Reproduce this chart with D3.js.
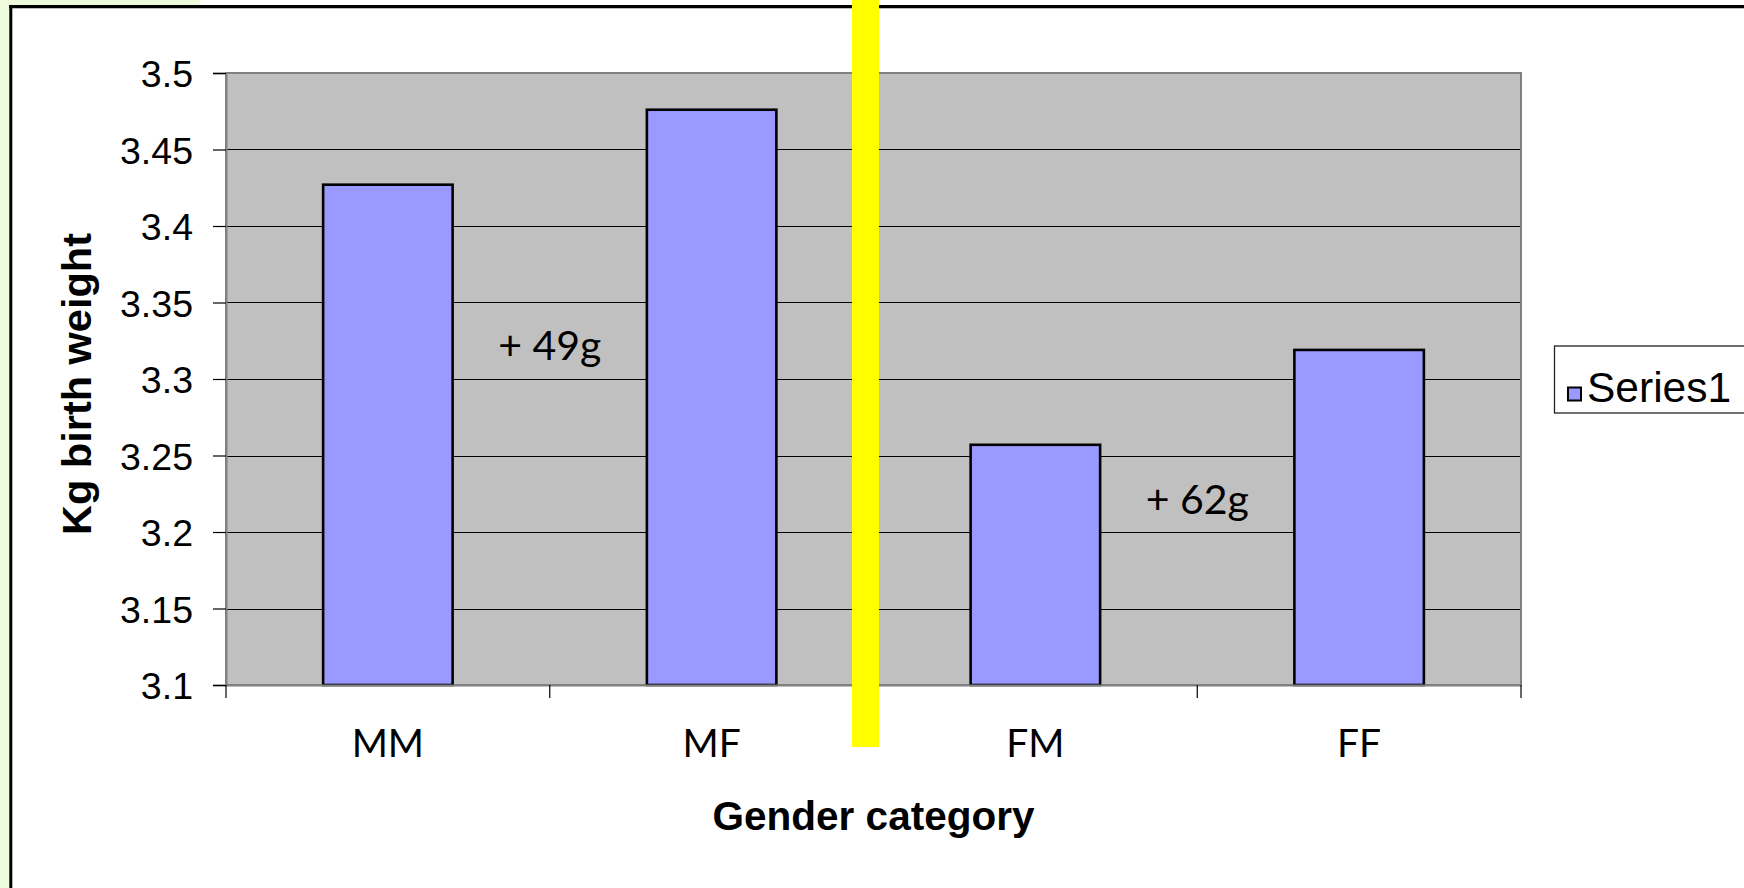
<!DOCTYPE html>
<html>
<head>
<meta charset="utf-8">
<script src="https://cdn.jsdelivr.net/npm/d3@7/dist/d3.min.js"></script>
<style>
  html, body { margin: 0; padding: 0; background: #ffffff; }
  svg { display: block; }
</style>
</head>
<body>
<svg id="chart" width="1744" height="888"></svg>
<script>
// ---- data ----
const categories = ["MM", "MF", "FM", "FF"];
const values = [3.427, 3.476, 3.257, 3.319];
const seriesName = "Series1";
const yTicks = [3.1, 3.15, 3.2, 3.25, 3.3, 3.35, 3.4, 3.45, 3.5];
const yTickLabels = ["3.1", "3.15", "3.2", "3.25", "3.3", "3.35", "3.4", "3.45", "3.5"];
const annotationTexts = ["+ 49g", "+ 62g"];
const annotationBetween = [["MM", "MF"], ["FM", "FF"]];
const annotationLevels = [3.3125, 3.212];
const xTitle = "Gender category";
const yTitle = "Kg birth weight";

// ---- layout ----
const W = 1744, H = 888;
const plot = { left: 226, right: 1521, top: 73, bottom: 685 };
const svg = d3.select("#chart");

// background + frame
svg.append("rect").attr("x", 0).attr("y", 0).attr("width", W).attr("height", H).attr("fill", "#ffffff");
svg.append("rect").attr("x", 0).attr("y", 0).attr("width", 10).attr("height", H).attr("fill", "#eefadc");
svg.append("rect").attr("x", 0).attr("y", 0).attr("width", 200).attr("height", 6).attr("fill", "#eefadc");
svg.append("line").attr("x1", 10.8).attr("x2", 10.8).attr("y1", 5).attr("y2", H).attr("stroke", "#000").attr("stroke-width", 3);
svg.append("line").attr("x1", 9.3).attr("x2", W).attr("y1", 6.6).attr("y2", 6.6).attr("stroke", "#000").attr("stroke-width", 3.2);

const x = d3.scaleBand().domain(categories).range([plot.left, plot.right]).paddingInner(0).paddingOuter(0);
const y = d3.scaleLinear().domain([3.1, 3.5]).range([plot.bottom, plot.top]);

// plot area
svg.append("rect")
  .attr("x", plot.left).attr("y", plot.top)
  .attr("width", plot.right - plot.left).attr("height", plot.bottom - plot.top)
  .attr("fill", "#c0c0c0");

// gridlines
svg.append("g").selectAll("line").data(yTicks.slice(1, -1)).join("line")
  .attr("x1", plot.left).attr("x2", plot.right)
  .attr("y1", d => Math.round(y(d)) + 0.5).attr("y2", d => Math.round(y(d)) + 0.5)
  .attr("stroke", "#000").attr("stroke-width", 1);

// plot border
svg.append("rect")
  .attr("x", plot.left).attr("y", plot.top)
  .attr("width", plot.right - plot.left).attr("height", plot.bottom - plot.top)
  .attr("fill", "none").attr("stroke", "#808080").attr("stroke-width", 2);

// bars
const barW = x.bandwidth() * 0.4;
svg.append("g").selectAll("rect").data(categories).join("rect")
  .attr("x", d => x(d) + (x.bandwidth() - barW) / 2)
  .attr("y", (d, i) => y(values[i]))
  .attr("width", barW)
  .attr("height", (d, i) => y(3.1) - y(values[i]))
  .attr("fill", "#9999ff")
  .attr("stroke", "#000").attr("stroke-width", 2.6);

// y axis
const yAxis = d3.axisLeft(y).tickValues(yTicks).tickSize(13).tickPadding(20)
  .tickFormat((d, i) => yTickLabels[i]);
const gy = svg.append("g").attr("transform", `translate(${plot.left},0)`).call(yAxis);
gy.select(".domain").attr("stroke", "#808080").attr("stroke-width", 2);
gy.selectAll(".tick line").attr("stroke", "#000").attr("stroke-width", 1.2);
gy.selectAll(".tick text")
  .attr("font-family", "'Liberation Sans', Arial, sans-serif")
  .attr("font-size", 37.5).attr("fill", "#000").attr("dy", "0.36em");

// x axis
const xAxis = d3.axisBottom(x).tickSize(0).tickPadding(0).tickFormat(() => "");
const gx = svg.append("g").attr("transform", `translate(0,${plot.bottom})`).call(xAxis);
gx.select(".domain").attr("stroke", "#808080").attr("stroke-width", 2);
gx.selectAll(".tick").remove();
const boundaries = categories.map(c => x(c)).concat([x(categories[categories.length - 1]) + x.bandwidth()]);
svg.append("g").selectAll("line").data(boundaries).join("line")
  .attr("x1", d => d).attr("x2", d => d)
  .attr("y1", plot.bottom).attr("y2", plot.bottom + 13)
  .attr("stroke", "#000").attr("stroke-width", 1.2);
svg.append("g").selectAll("text").data(categories).join("text")
  .attr("x", d => x(d) + x.bandwidth() / 2)
  .attr("y", 757)
  .attr("text-anchor", "middle")
  .attr("font-family", "Lato, 'Open Sans', sans-serif")
  .attr("font-size", 39).attr("fill", "#000")
  .text(d => d);

// annotations
svg.append("g").selectAll("text").data(annotationTexts).join("text")
  .attr("x", (d, i) => x(annotationBetween[i][1]))
  .attr("y", (d, i) => y(annotationLevels[i]))
  .attr("text-anchor", "middle")
  .attr("font-family", "Lato, 'Open Sans', sans-serif")
  .attr("font-size", 41).attr("fill", "#000")
  .text(d => d);

// axis titles
svg.append("text")
  .attr("x", (plot.left + plot.right) / 2).attr("y", 830)
  .attr("text-anchor", "middle")
  .attr("font-family", "'Liberation Sans', Arial, sans-serif")
  .attr("font-weight", "bold").attr("font-size", 40.5).attr("fill", "#000")
  .text(xTitle);
svg.append("text")
  .attr("transform", `translate(91,${(plot.top + plot.bottom) / 2 + 5}) rotate(-90)`)
  .attr("text-anchor", "middle")
  .attr("font-family", "'Liberation Sans', Arial, sans-serif")
  .attr("font-weight", "bold").attr("font-size", 41.5).attr("fill", "#000")
  .text(yTitle);

// legend
const lg = svg.append("g");
lg.append("rect").attr("x", 1554.5).attr("y", 346).attr("width", 220).attr("height", 67)
  .attr("fill", "#ffffff").attr("stroke", "#222").attr("stroke-width", 1.3);
lg.append("rect").attr("x", 1568).attr("y", 387.5).attr("width", 13).attr("height", 13)
  .attr("fill", "#9999ff").attr("stroke", "#000").attr("stroke-width", 2);
lg.append("text").attr("x", 1587).attr("y", 401.5)
  .attr("font-family", "'Liberation Sans', Arial, sans-serif")
  .attr("font-size", 42.5).attr("fill", "#000")
  .text(seriesName);

// yellow divider
svg.append("rect").attr("x", 852).attr("y", 0).attr("width", 27).attr("height", 747).attr("fill", "#ffff00");
</script>
</body>
</html>
